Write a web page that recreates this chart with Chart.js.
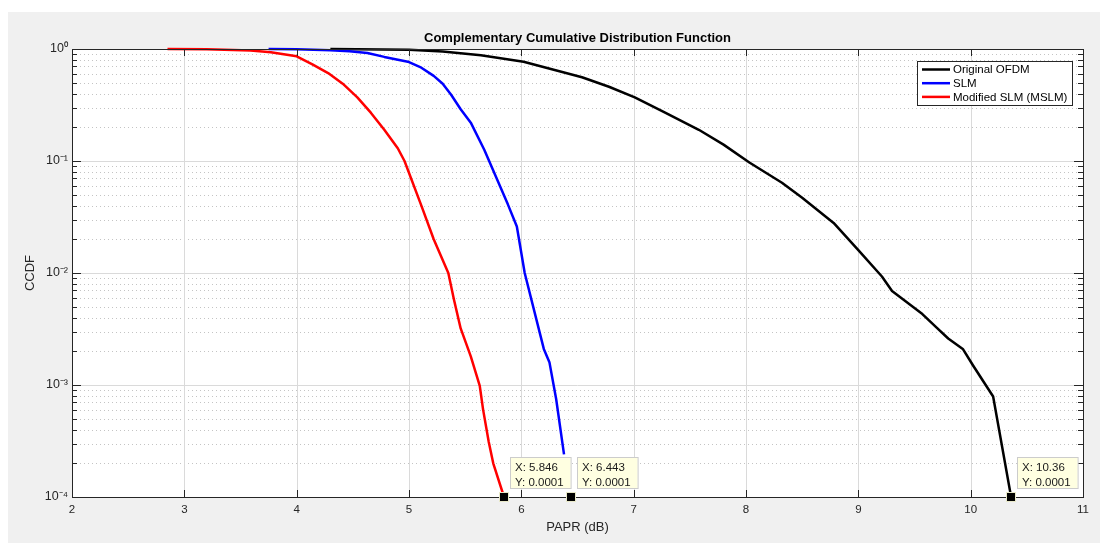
<!DOCTYPE html>
<html>
<head>
<meta charset="utf-8">
<script src="https://cdn.jsdelivr.net/npm/chart.js@4.4.1/dist/chart.umd.min.js"></script>
<style>
  html, body { margin: 0; padding: 0; background: #fff; }
  canvas { display: block; }
</style>
</head>
<body>
<canvas id="ccdf" width="1108" height="543"></canvas>
<script>
// ── Data ───────────────────────────────────────────────────────────────────
const ofdmX = [4.3, 5.0, 5.3, 5.64, 6.02, 6.54, 6.78, 7.01, 7.28, 7.58, 7.8, 8.03, 8.32, 8.5, 8.78, 9.0, 9.21, 9.3, 9.57, 9.69, 9.8, 9.93, 10.02, 10.2, 10.36];
const ofdmY = [1.0, 0.985, 0.95, 0.88, 0.77, 0.56, 0.46, 0.37, 0.27, 0.19, 0.14, 0.097, 0.064, 0.047, 0.028, 0.016, 0.0093, 0.0069, 0.0043, 0.0033, 0.0026, 0.0021, 0.0015, 0.00079, 0.0001];

const slmX = [3.75, 4.0, 4.3, 4.47, 4.63, 4.78, 4.99, 5.1, 5.22, 5.3, 5.375, 5.46, 5.55, 5.67, 5.88, 5.96, 6.03, 6.2, 6.25, 6.31, 6.38];
const slmY = [1.0, 0.995, 0.975, 0.955, 0.92, 0.85, 0.77, 0.69, 0.575, 0.49, 0.39, 0.29, 0.22, 0.126, 0.041, 0.026, 0.01, 0.0021, 0.0016, 0.00075, 0.00024];

const mslmX = [2.85, 3.2, 3.59, 3.77, 4.0, 4.14, 4.28, 4.41, 4.54, 4.66, 4.78, 4.9, 4.96, 5.11, 5.22, 5.35, 5.4, 5.46, 5.55, 5.63, 5.66, 5.71, 5.75, 5.846];
const mslmY = [1.0, 0.995, 0.97, 0.935, 0.86, 0.73, 0.61, 0.49, 0.37, 0.27, 0.19, 0.13, 0.1, 0.04, 0.02, 0.01, 0.0058, 0.0032, 0.0018, 0.00098, 0.0006, 0.00031, 0.0002, 0.0001];

const xTicks = [2, 3, 4, 5, 6, 7, 8, 9, 10, 11];
const yDecades = [1e-4, 1e-3, 1e-2, 1e-1, 1];
const yTickLabels = ['10⁻⁴', '10⁻³', '10⁻²', '10⁻¹', '10⁰'];

// data tips (MATLAB style), one per curve
const tipX = [5.846, 6.443, 10.36];
const tipY = [0.0001, 0.0001, 0.0001];
const tipXText = ['X: 5.846', 'X: 6.443', 'X: 10.36'];
const tipYText = ['Y: 0.0001', 'Y: 0.0001', 'Y: 0.0001'];

const FONT = '"Liberation Sans", Arial, Helvetica, sans-serif';
const AXIS_CLR = '#262626';

function pts(xs, ys) { return xs.map((x, i) => ({ x, y: ys[i] })); }
const px = v => Math.round(v) + 0.5;

// ── Figure decoration: background, grid, box, ticks, legend, data tips ────
const figurePlugin = {
  id: 'matlabFigure',
  beforeDraw(chart) {
    const { ctx, chartArea: a, scales: { x, y } } = chart;
    ctx.save();
    ctx.fillStyle = '#ffffff';
    ctx.fillRect(0, 0, chart.width, chart.height);
    ctx.fillStyle = '#f0f0f0';
    ctx.fillRect(8, 12, 1092, chart.height - 12);
    ctx.fillStyle = '#ffffff';
    ctx.fillRect(a.left, a.top, a.right - a.left, a.bottom - a.top);

    // minor y grid (dotted)
    ctx.lineWidth = 1;
    ctx.strokeStyle = '#c4c4c4';
    ctx.setLineDash([1, 3]);
    yDecades.slice(0, -1).forEach(d => {
      for (let m = 2; m <= 9; m++) {
        const yy = px(y.getPixelForValue(m * d));
        ctx.beginPath(); ctx.moveTo(a.left, yy); ctx.lineTo(a.right, yy); ctx.stroke();
      }
    });
    ctx.setLineDash([]);

    // major grid (solid)
    ctx.strokeStyle = '#dadada';
    xTicks.slice(1, -1).forEach(v => {
      const xx = px(x.getPixelForValue(v));
      ctx.beginPath(); ctx.moveTo(xx, a.top); ctx.lineTo(xx, a.bottom); ctx.stroke();
    });
    yDecades.slice(1, -1).forEach(v => {
      const yy = px(y.getPixelForValue(v));
      ctx.beginPath(); ctx.moveTo(a.left, yy); ctx.lineTo(a.right, yy); ctx.stroke();
    });
    ctx.restore();
  },

  afterDatasetsDraw(chart) {
    const { ctx, chartArea: a, scales: { x, y } } = chart;
    ctx.save();

    // axes box
    ctx.strokeStyle = AXIS_CLR;
    ctx.lineWidth = 1;
    ctx.strokeRect(px(a.left), px(a.top), Math.round(a.right - a.left), Math.round(a.bottom - a.top));

    // tick marks, pointing inward, on all four sides
    ctx.beginPath();
    xTicks.forEach(v => {
      const xx = px(x.getPixelForValue(v));
      ctx.moveTo(xx, a.bottom); ctx.lineTo(xx, a.bottom - 7);
      ctx.moveTo(xx, a.top); ctx.lineTo(xx, a.top + 7);
    });
    yDecades.forEach((d, k) => {
      const yy = px(y.getPixelForValue(d));
      ctx.moveTo(a.left, yy); ctx.lineTo(a.left + 9, yy);
      ctx.moveTo(a.right, yy); ctx.lineTo(a.right - 9, yy);
      if (k === yDecades.length - 1) return;
      for (let m = 2; m <= 9; m++) {
        const ym = px(y.getPixelForValue(m * d));
        ctx.moveTo(a.left, ym); ctx.lineTo(a.left + 5, ym);
        ctx.moveTo(a.right, ym); ctx.lineTo(a.right - 5, ym);
      }
    });
    ctx.stroke();

    // title
    ctx.fillStyle = '#000';
    ctx.font = 'bold 13px ' + FONT;
    ctx.textAlign = 'center';
    ctx.textBaseline = 'middle';
    ctx.fillText('Complementary Cumulative Distribution Function', (a.left + a.right) / 2, 38);

    // legend box (top right, inside axes)
    const legendOrder = [2, 1, 0];
    const lx = 917, ly = 61, lw = 155, lh = 44;
    ctx.fillStyle = '#fff';
    ctx.fillRect(lx, ly, lw, lh);
    ctx.strokeStyle = AXIS_CLR;
    ctx.strokeRect(lx + 0.5, ly + 0.5, lw, lh);
    ctx.font = '11.5px ' + FONT;
    ctx.textAlign = 'left';
    legendOrder.forEach((di, r) => {
      const ds = chart.data.datasets[di];
      const ry = ly + 8.5 + r * 13.7;
      ctx.strokeStyle = ds.borderColor;
      ctx.lineWidth = 2.5;
      ctx.beginPath(); ctx.moveTo(lx + 5, ry); ctx.lineTo(lx + 33, ry); ctx.stroke();
      ctx.fillStyle = '#000';
      ctx.fillText(ds.label, lx + 36, ry + 0.5);
    });

    // data tips
    tipX.forEach((tx, i) => {
      const mx = x.getPixelForValue(tx);
      const my = y.getPixelForValue(tipY[i]);
      ctx.font = '11.5px ' + FONT;
      const w = Math.max(ctx.measureText(tipXText[i]).width, ctx.measureText(tipYText[i]).width) + 12;
      const bx = Math.round(mx) + 6, by = Math.round(my) - 40;
      ctx.fillStyle = '#ffffe1';
      ctx.fillRect(bx, by, w, 31);
      ctx.strokeStyle = '#cccccc';
      ctx.lineWidth = 1;
      ctx.strokeRect(bx + 0.5, by + 0.5, w, 31);
      ctx.fillStyle = '#1a1a1a';
      ctx.textAlign = 'left';
      ctx.textBaseline = 'middle';
      ctx.fillText(tipXText[i], bx + 5, by + 11);
      ctx.fillText(tipYText[i], bx + 5, by + 25.5);
      // marker
      ctx.fillStyle = '#000';
      ctx.fillRect(Math.round(mx) - 4.5, Math.round(my) - 4.5, 9, 9);
      ctx.strokeStyle = '#e8e8c8';
      ctx.strokeRect(Math.round(mx) - 4.5, Math.round(my) - 4.5, 9, 9);
    });

    ctx.restore();
  }
};

// ── Chart ──────────────────────────────────────────────────────────────────
new Chart(document.getElementById('ccdf'), {
  type: 'line',
  data: {
    datasets: [
      { label: 'Modified SLM (MSLM)', data: pts(mslmX, mslmY), borderColor: '#ff0000', order: 0 },
      { label: 'SLM', data: pts(slmX, slmY), borderColor: '#0000ff', order: 1 },
      { label: 'Original OFDM', data: pts(ofdmX, ofdmY), borderColor: '#000000', order: 2 },
    ],
  },
  options: {
    responsive: false,
    animation: false,
    devicePixelRatio: 1,
    layout: { padding: { left: 8, top: 49, right: 25, bottom: 0 } },
    elements: {
      point: { radius: 0 },
      line: { borderWidth: 2.5, tension: 0, borderJoinStyle: 'round', fill: false },
    },
    datasets: { line: { clip: 4 } },
    plugins: { legend: { display: false }, tooltip: { enabled: false } },
    scales: {
      x: {
        type: 'linear',
        min: 2, max: 11,
        afterBuildTicks: s => { s.ticks = xTicks.map(v => ({ value: v })); },
        afterFit: s => { s.height = 46; },
        grid: { display: false, drawTicks: false },
        border: { display: false },
        ticks: { color: AXIS_CLR, padding: 6, font: { family: FONT, size: 11.5 } },
        title: {
          display: true, text: 'PAPR (dB)', color: AXIS_CLR,
          font: { family: FONT, size: 13 }, padding: { top: 0, bottom: 8 },
        },
      },
      y: {
        type: 'logarithmic',
        min: 1e-4, max: 1,
        afterBuildTicks: s => { s.ticks = yDecades.map(v => ({ value: v })); },
        afterFit: s => { s.width = 64; },
        grid: { display: false, drawTicks: false },
        border: { display: false },
        ticks: {
          color: AXIS_CLR, padding: 4, font: { family: FONT, size: 12.5 },
          callback: (v, i) => yTickLabels[i],
        },
        title: {
          display: true, text: 'CCDF', color: AXIS_CLR,
          font: { family: FONT, size: 13 }, padding: { top: 15, bottom: 0 },
        },
      },
    },
  },
  plugins: [figurePlugin],
});
</script>
</body>
</html>
